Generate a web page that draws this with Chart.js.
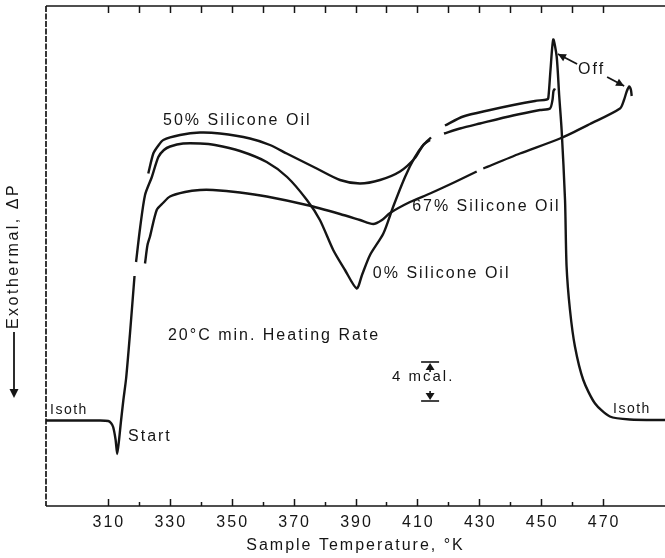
<!DOCTYPE html>
<html><head><meta charset="utf-8">
<script src="https://cdn.jsdelivr.net/npm/chart.js@4.4.1/dist/chart.umd.min.js"></script>
<style>html,body{margin:0;padding:0;background:#fff;}#wrap{width:665px;height:558px;}</style>
</head><body><div id="wrap"><canvas id="c" width="665" height="558"></canvas></div>
<script>
// ---- axis ranges / ticks ----
const X_MIN = 290, X_MAX = 490;
const Y_MIN = 0, Y_MAX = 100;
const TICK_VALUES = [310,320,330,340,350,360,370,380,390,400,410,420,430,440,450,460,470];
const TICK_LABELS = ['310','330','350','370','390','410','430','450','470'];
const X_TITLE = 'Sample Temperature, °K';
const Y_TITLE = 'Exothermal, ΔP';

// ---- traces (temperature K, deflection in arbitrary units) ----
const startT = [290, 307.5, 310.1, 311.0, 311.7, 312.5, 313.0, 313.6, 314.2, 315.0, 315.9, 317.1, 318.6];
const startV = [17.1, 17.1, 17.0, 16.6, 15.8, 13.2, 10.4, 13.2, 16.8, 21.2, 25.6, 34.2, 46.0];

const oil0T = [319.1, 320.4, 322.0, 324.2, 326.3, 328.1, 330.1, 334.3, 339.8, 344.6, 352.7, 361.3, 367.9, 374.3, 378.5, 382.8, 386.6, 390.4, 392.1, 394.7, 399.0, 402.2, 406.0, 409.2, 411.9, 414.4, 416.6, 418.9, 424.8, 433.5, 441.0, 448.0, 451.8, 452.3, 453.0, 453.9, 455.0, 455.8, 456.6, 457.7, 458.2, 459.3, 460.9, 463.6, 467.4, 472.2, 478.7, 490];
const oil0V = [48.8, 55.6, 62.2, 65.8, 69.8, 71.2, 71.9, 72.5, 72.5, 72.2, 71.0, 68.8, 65.8, 61.2, 57.2, 51.2, 47.2, 43.5, 46.2, 50.2, 54.5, 59.9, 65.8, 69.8, 72.2, 73.7, null, 76.1, 77.9, 79.2, 80.2, 81.0, 81.3, 81.6, 87.2, 93.3, 89.9, 82.2, 75.2, 61.2, 47.9, 39.2, 31.9, 25.2, 20.5, 17.9, 17.3, 17.2];

const oil50T = [323.05, 324.67, 326.19, 327.9, 333.3, 339.76, 346.22, 355.91, 362.37, 367.77, 377.46, 384.99, 391.45, 397.92, 404.38, 409.22, 411.9, 414.07, 416.3, 418.59, 423.76, 430.23, 440.89, 449.61, 452.84, 453.65, 453.97, 454.46];
const oil50V = [66.5, 70.5, 72.0, 73.2, 74.2, 74.7, 74.5, 73.5, 72.2, 70.5, 67.5, 65.2, 64.5, 65.2, 66.9, 69.6, 72.2, 73.2, null, 74.5, 75.5, 76.5, 78.1, 79.2, 79.5, 81.2, 83.0, 83.5];

const oil67T = [321.99, 322.79, 323.6, 325.77, 327.8, 330.06, 334.91, 339.76, 343.96, 352.68, 361.31, 374.23, 384.99, 391.45, 395.75, 398.56, 401.15, 407.61, 414.07, 422.15, 429.16, 430.2, 431.29, 443.15, 456.07, 465.77, 475.46, 476.75, 477.62, 478.46, 479.0, 479.24];
const oil67V = [48.5, 52.2, 53.9, 59.2, 60.6, 61.9, 62.8, 63.2, 63.2, 62.7, 61.9, 60.2, 58.4, 57.2, 56.4, 57.2, 58.6, 60.8, 62.5, 64.8, 66.9, null, 67.5, 70.5, 73.5, 76.4, 79.5, 81.2, 82.9, 83.9, 83.2, 82.0];

const SERIES = [
  {label: 'Isoth / Start', T: startT, V: startV},
  {label: '0% Silicone Oil', T: oil0T, V: oil0V},
  {label: '50% Silicone Oil', T: oil50T, V: oil50V},
  {label: '67% Silicone Oil', T: oil67T, V: oil67V}
];

// ---- annotation texts (placed in data coordinates) ----
const NOTES = [
  {text: '50% Silicone Oil', t: 327.8, v: 77.0, size: 16, sp: 2},
  {text: '67% Silicone Oil', t: 408.3, v: 59.8, size: 16, sp: 2},
  {text: '0% Silicone Oil', t: 395.6, v: 46.4, size: 16, sp: 2},
  {text: '20°C min. Heating Rate', t: 329.4, v: 34.0, size: 16, sp: 2},
  {text: 'Start', t: 316.5, v: 13.8, size: 16, sp: 2},
  {text: 'Isoth', t: 291.3, v: 19.2, size: 14, sp: 1.5},
  {text: 'Isoth', t: 473.2, v: 19.4, size: 14, sp: 1.5},
  {text: 'Off', t: 461.9, v: 87.2, size: 16, sp: 2},
  {text: '4 mcal.', t: 401.8, v: 25.8, size: 15, sp: 2}
];
const ARROWS = [
  {t0: 461.6, v0: 88.4, t1: 455.4, v1: 90.4},
  {t0: 471.3, v0: 85.8, t1: 476.8, v1: 84.0}
];
const SCALE_BAR = {t: 414.1, lo: 21.0, hi: 28.8};

const INK = '#151515';
const FONT = '"Liberation Sans", Arial, sans-serif';

function arrowHead(ctx, x0, y0, x1, y1, len, half) {
  const a = Math.atan2(y1 - y0, x1 - x0);
  ctx.beginPath();
  ctx.moveTo(x1, y1);
  ctx.lineTo(x1 - len * Math.cos(a) + half * Math.sin(a), y1 - len * Math.sin(a) - half * Math.cos(a));
  ctx.lineTo(x1 - len * Math.cos(a) - half * Math.sin(a), y1 - len * Math.sin(a) + half * Math.cos(a));
  ctx.closePath();
  ctx.fill();
}

const decor = {
  id: 'decor',
  afterDraw(chart) {
    const {ctx, chartArea: a, scales: {x, y}} = chart;
    const L = (x0, y0, x1, y1) => { ctx.beginPath(); ctx.moveTo(x0, y0); ctx.lineTo(x1, y1); ctx.stroke(); };
    ctx.save();
    ctx.strokeStyle = INK; ctx.fillStyle = INK;
    ctx.lineWidth = 1.7;
    L(a.left, a.top, a.right, a.top);
    L(a.left, a.bottom, a.right, a.bottom);
    ctx.setLineDash([6, 1.5]);
    L(a.left, a.top, a.left, a.bottom);
    ctx.setLineDash([]);
    // ticks (inside)
    ctx.lineWidth = 1.5;
    TICK_VALUES.forEach(v => {
      const px = Math.round(x.getPixelForValue(v)) + 0.5;
      const major = TICK_LABELS.includes(String(v));
      L(px, a.bottom, px, a.bottom - (major ? 7 : 4));
      L(px, a.top, px, a.top + 7);
    });
    // tick labels
    ctx.font = '16px ' + FONT;
    ctx.letterSpacing = '2px';
    ctx.textAlign = 'center'; ctx.textBaseline = 'top';
    TICK_LABELS.forEach(s => {
      ctx.fillText(s, x.getPixelForValue(Number(s)) + 1, a.bottom + 9);
    });
    // x title
    ctx.textBaseline = 'middle';
    ctx.fillText(X_TITLE, (a.left + a.right) / 2, a.bottom + 40);
    // y title, rotated, with arrow
    ctx.save();
    ctx.translate(14, 256);
    ctx.rotate(-Math.PI / 2);
    ctx.textAlign = 'center';
    ctx.letterSpacing = '2.5px';
    ctx.fillText(Y_TITLE, 0, 0);
    ctx.restore();
    ctx.lineWidth = 1.8;
    L(14, 332, 14, 390);
    arrowHead(ctx, 14, 380, 14, 398, 9, 4.5);
    // notes
    ctx.textAlign = 'left'; ctx.textBaseline = 'middle';
    NOTES.forEach(n => {
      ctx.font = n.size + 'px ' + FONT;
      ctx.letterSpacing = n.sp + 'px';
      ctx.fillText(n.text, x.getPixelForValue(n.t), y.getPixelForValue(n.v));
    });
    // Off arrows
    ctx.lineWidth = 1.8;
    ARROWS.forEach(r => {
      const x0 = x.getPixelForValue(r.t0), y0 = y.getPixelForValue(r.v0);
      const x1 = x.getPixelForValue(r.t1), y1 = y.getPixelForValue(r.v1);
      L(x0, y0, x1, y1);
      arrowHead(ctx, x0, y0, x1, y1, 8, 4);
    });
    // scale bar
    const sx = x.getPixelForValue(SCALE_BAR.t);
    const yHi = y.getPixelForValue(SCALE_BAR.hi), yLo = y.getPixelForValue(SCALE_BAR.lo);
    ctx.lineWidth = 1.6;
    L(sx - 9, yHi, sx + 9, yHi);
    L(sx - 9, yLo, sx + 9, yLo);
    L(sx, yHi + 4, sx, yHi + 10);
    L(sx, yLo - 4, sx, yLo - 10);
    arrowHead(ctx, sx, yHi + 9, sx, yHi + 1, 7, 4.5);
    arrowHead(ctx, sx, yLo - 9, sx, yLo - 1, 7, 4.5);
    ctx.restore();
  }
};

new Chart(document.getElementById('c').getContext('2d'), {
  type: 'scatter',
  data: {
    datasets: SERIES.map(s => ({
      label: s.label,
      data: s.T.map((t, i) => ({x: t, y: s.V[i]})),
      showLine: true,
      borderColor: INK,
      borderWidth: 2.4,
      pointRadius: 0,
      tension: 0.25,
      spanGaps: false,
      fill: false
    }))
  },
  options: {
    responsive: false,
    animation: false,
    events: [],
    layout: {padding: {left: 46, right: 0, top: 6, bottom: 52}},
    plugins: {legend: {display: false}, tooltip: {enabled: false}},
    scales: {
      x: {type: 'linear', min: X_MIN, max: X_MAX, display: false},
      y: {type: 'linear', min: Y_MIN, max: Y_MAX, display: false}
    }
  },
  plugins: [decor]
});
</script>
</body></html>
